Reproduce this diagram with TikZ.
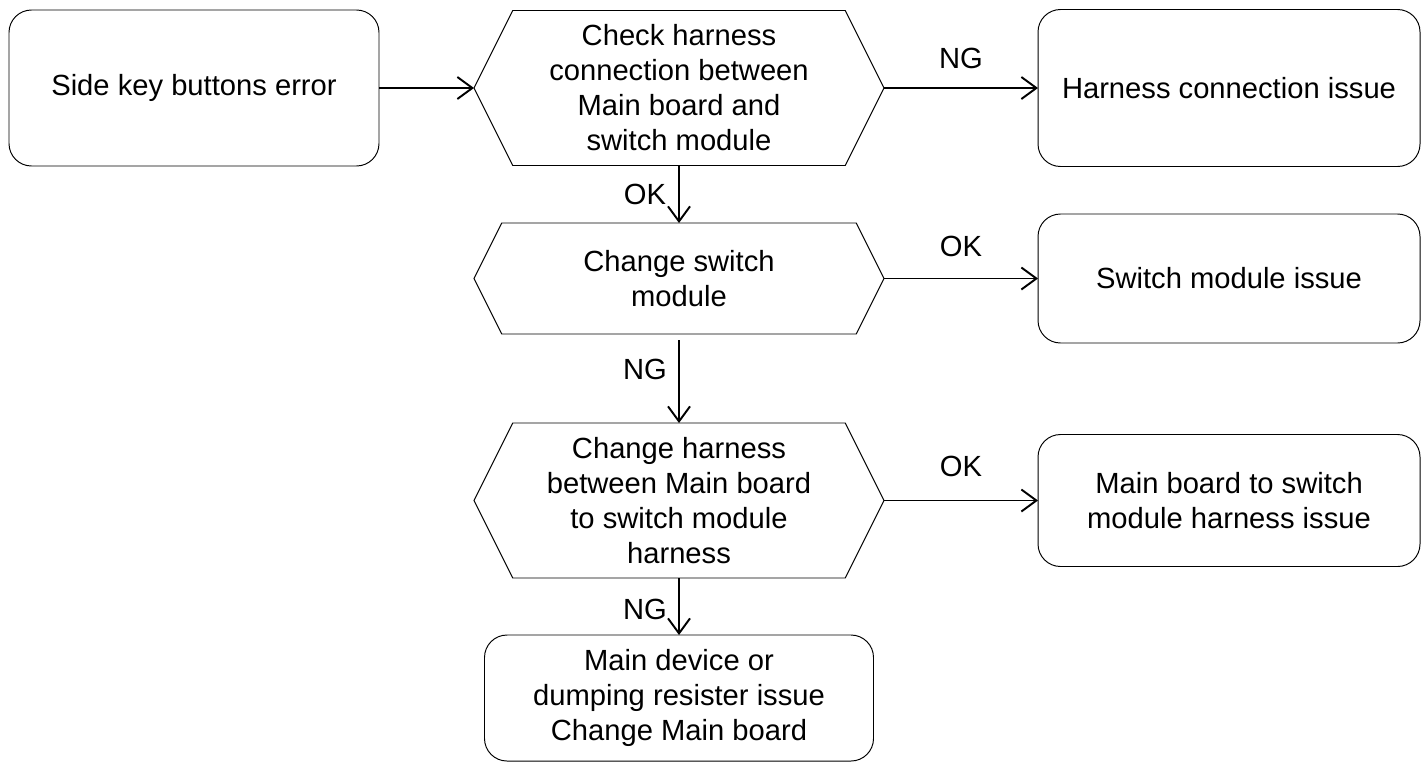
\documentclass[tikz,border=0pt]{standalone}
\usepackage{fontspec}
\setmainfont{Liberation Sans}
\usepackage{tikz}
\usetikzlibrary{positioning, arrows.meta}

\begin{document}
\begin{tikzpicture}[on grid, >={Straight Barb[length=3mm, width=4.4mm, line width=1.1pt]},
    every node/.style={font=\fontsize{16.6}{19.9}\selectfont},
    proc/.style={draw, line width=0.55pt, rounded corners=0.45cm, align=center, outer sep=0pt},
    hexbox/.style={minimum width=8.2cm, align=center, outer sep=0pt},
    flow/.style={->, line width=1.1pt}]
    \useasboundingbox (0,0) rectangle (28.44,-15.26);

    % Boxes
    \node[proc, minimum width=7.4cm, minimum height=3.12cm]  (err)  at (3.88,-1.76) {Side key buttons error};
    \node[hexbox, minimum height=3.1cm, right=9.7cm of err]   (chk)  {Check harness\\connection between\\Main board and\\switch module};
    \node[proc, minimum width=7.64cm, minimum height=3.14cm, right=11cm of chk] (hcon) {Harness connection issue};
    \node[hexbox, minimum height=2.22cm, below=3.81cm of chk] (swm)  {Change switch\\module};
    \node[proc, minimum width=7.64cm, minimum height=2.58cm, right=11cm of swm] (swiss) {Switch module issue};
    \node[hexbox, minimum height=3.1cm, below=4.44cm of swm]  (hrn)  {Change harness\\between Main board\\to switch module\\harness};
    \node[proc, minimum width=7.64cm, minimum height=2.64cm, right=11cm of hrn] (mbiss) {Main board to switch\\module harness issue};
    \node[proc, minimum width=7.78cm, minimum height=2.52cm, below=3.95cm of hrn] (mdev) {Main device or\\dumping resister issue\\Change Main board};

    % Hexagon outlines
    \foreach \h/\d in {chk/0.775, swm/0.555, hrn/0.775}
      \draw[line width=0.55pt] (\h.west) -- ([xshift=\d cm]\h.north west) -- ([xshift=-\d cm]\h.north east)
        -- (\h.east) -- ([xshift=-\d cm]\h.south east) -- ([xshift=\d cm]\h.south west) -- cycle;

    % Connections
    \draw[flow] (err) -- (chk);
    \draw[flow] (chk) -- node[midway, yshift=0.6cm] {NG} (hcon);
    \draw[flow] (chk) -- node[midway, xshift=-0.68cm] {OK} (swm);
    \draw[flow] (swm) -- node[midway, yshift=0.64cm] {OK} (swiss);
    \draw[flow] ([yshift=-0.12cm]swm.south) -- node[pos=0.35, xshift=-0.68cm] {NG} (hrn);
    \draw[flow] (hrn) -- node[midway, yshift=0.68cm] {OK} (mbiss);
    \draw[flow] (hrn) -- node[pos=0.55, xshift=-0.68cm] {NG} (mdev);
\end{tikzpicture}
\end{document}
